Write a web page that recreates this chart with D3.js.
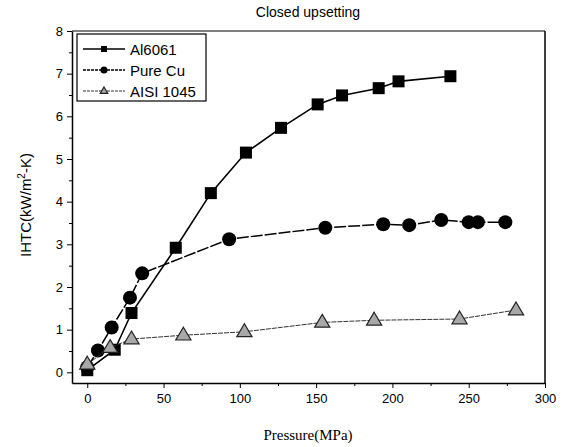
<!DOCTYPE html>
<html>
<head>
<meta charset="utf-8">
<script src="https://cdn.jsdelivr.net/npm/d3@7"></script>
<style>
  body { margin: 0; background: #fff; }
  svg { display: block; }
  .tick text { font-family: "Liberation Sans", Arial, sans-serif; font-size: 13px; }
</style>
</head>
<body>
<svg id="chart" width="570" height="447"></svg>
<script>
// pressure (MPa) / IHTC (kW/m2-K)
const alP  = [0, 18, 29, 58, 81, 104, 127, 151, 167, 191, 204, 238];
const alH  = [0.05, 0.53, 1.39, 2.92, 4.2, 5.15, 5.73, 6.28, 6.49, 6.66, 6.82, 6.94];
const cuP  = [0, 7, 16, 28, 36, 93, 156, 194, 211, 232, 250, 256, 274];
const cuH  = [0.12, 0.51, 1.05, 1.75, 2.32, 3.12, 3.39, 3.47, 3.45, 3.57, 3.52, 3.52, 3.52];
const stP  = [0, 15, 29, 63, 103, 154, 188, 244, 281];
const stH  = [0.19, 0.58, 0.78, 0.87, 0.95, 1.17, 1.22, 1.25, 1.46];
const xTicks = [0, 50, 100, 150, 200, 250, 300];
const yTicks = [0, 1, 2, 3, 4, 5, 6, 7, 8];

const series = [
  { name: "Al6061",    p: alP, h: alH, shape: "square" },
  { name: "Pure Cu",   p: cuP, h: cuH, shape: "circle" },
  { name: "AISI 1045", p: stP, h: stH, shape: "triangle" }
];

const margin = { top: 31, right: 25, bottom: 64, left: 72 };
const svg = d3.select("#chart");
const width = 570 - margin.left - margin.right;
const height = 447 - margin.top - margin.bottom;

const g = svg.append("g")
  .attr("transform", `translate(${margin.left},${margin.top})`);

const x = d3.scaleLinear().domain([-10, 300]).range([0, width]);
const y = d3.scaleLinear().domain([-0.25, 8]).range([height, 0]);

// minor ticks first
g.append("g")
  .attr("transform", `translate(0,${height})`)
  .call(d3.axisBottom(x).tickValues(d3.range(25, 300, 50)).tickSize(3).tickFormat(""))
  .call(a => a.select(".domain").remove());
g.append("g")
  .call(d3.axisLeft(y).tickValues(d3.range(0.5, 8, 1)).tickSize(3).tickFormat(""))
  .call(a => a.select(".domain").remove());

// major axes
g.append("g")
  .attr("transform", `translate(0,${height})`)
  .call(d3.axisBottom(x).tickValues(xTicks).tickSize(5).tickPadding(6).tickSizeOuter(0))
  .call(a => a.select(".domain").attr("stroke-width", 1.5));
g.append("g")
  .call(d3.axisLeft(y).tickValues(yTicks).tickSize(5).tickPadding(4).tickSizeOuter(0))
  .call(a => a.select(".domain").attr("stroke-width", 1.5));

// frame top / right
g.append("line").attr("x1", 0).attr("x2", width).attr("y1", 0).attr("y2", 0)
  .attr("stroke", "#000").attr("stroke-width", 1.2);
g.append("line").attr("x1", width).attr("x2", width).attr("y1", 0).attr("y2", height)
  .attr("stroke", "#000").attr("stroke-width", 1.5);

const lineStyle = {
  square:   { w: 1.6, dash: null,   color: "#000" },
  circle:   { w: 1.5, dash: "12,2", color: "#000" },
  triangle: { w: 1.0, dash: "5,1",  color: "#333" }
};

function marker(sel, shape, scale) {
  const s = scale || 1;
  if (shape === "square") {
    sel.append("rect")
      .attr("x", -6 * s).attr("y", -6 * s).attr("width", 12 * s).attr("height", 12 * s)
      .attr("fill", "#000");
  } else if (shape === "circle") {
    sel.append("circle").attr("r", 7 * s).attr("fill", "#000");
  } else {
    const r = 8 * s;
    sel.append("path")
      .attr("d", `M0,${-r} L${r * 0.95},${r * 0.6} L${-r * 0.95},${r * 0.6} Z`)
      .attr("fill", "#a8a8a8").attr("stroke", "#222").attr("stroke-width", 1.2);
  }
}

series.forEach(s => {
  const pts = s.p.map((v, i) => [v, s.h[i]]);
  const st = lineStyle[s.shape];
  g.append("path")
    .datum(pts)
    .attr("fill", "none")
    .attr("stroke", st.color)
    .attr("stroke-width", st.w)
    .attr("stroke-dasharray", st.dash)
    .attr("d", d3.line().x(d => x(d[0])).y(d => y(d[1])));
  g.selectAll(null)
    .data(pts)
    .join("g")
    .attr("transform", d => `translate(${x(d[0])},${y(d[1])})`)
    .each(function() { marker(d3.select(this), s.shape); });
});

// legend
const leg = svg.append("g").attr("transform", "translate(77,34)");
leg.append("rect").attr("width", 129).attr("height", 67)
  .attr("fill", "#fff").attr("stroke", "#000").attr("stroke-width", 1.2);
series.forEach((s, i) => {
  const st = lineStyle[s.shape];
  const row = leg.append("g").attr("transform", `translate(0,${15 + i * 21})`);
  row.append("line").attr("x1", 6).attr("x2", 48)
    .attr("stroke", st.color).attr("stroke-width", st.w)
    .attr("stroke-dasharray", i === 0 ? null : "3,1");
  const m = row.append("g").attr("transform", "translate(27,0)");
  marker(m, s.shape, 0.5);
  row.append("text").attr("x", 53).attr("y", 5.5)
    .attr("font-family", "Liberation Sans, Arial, sans-serif")
    .attr("font-size", 15).text(s.name);
});

// titles
svg.append("text").attr("x", 308).attr("y", 17).attr("text-anchor", "middle")
  .attr("font-family", "Liberation Sans, Arial, sans-serif").attr("font-size", 14)
  .text("Closed upsetting");

svg.append("text").attr("x", 308).attr("y", 440).attr("text-anchor", "middle")
  .attr("font-family", "Liberation Serif, Times New Roman, serif").attr("font-size", 15)
  .text("Pressure(MPa)");

const yl = svg.append("text")
  .attr("transform", "translate(31,205) rotate(-90)")
  .attr("text-anchor", "middle")
  .attr("font-family", "Liberation Sans, Arial, sans-serif").attr("font-size", 15);
yl.append("tspan").text("IHTC(kW/m");
yl.append("tspan").attr("dy", -6).attr("font-size", 10).text("2");
yl.append("tspan").attr("dy", 6).text("-K)");
</script>
</body>
</html>
